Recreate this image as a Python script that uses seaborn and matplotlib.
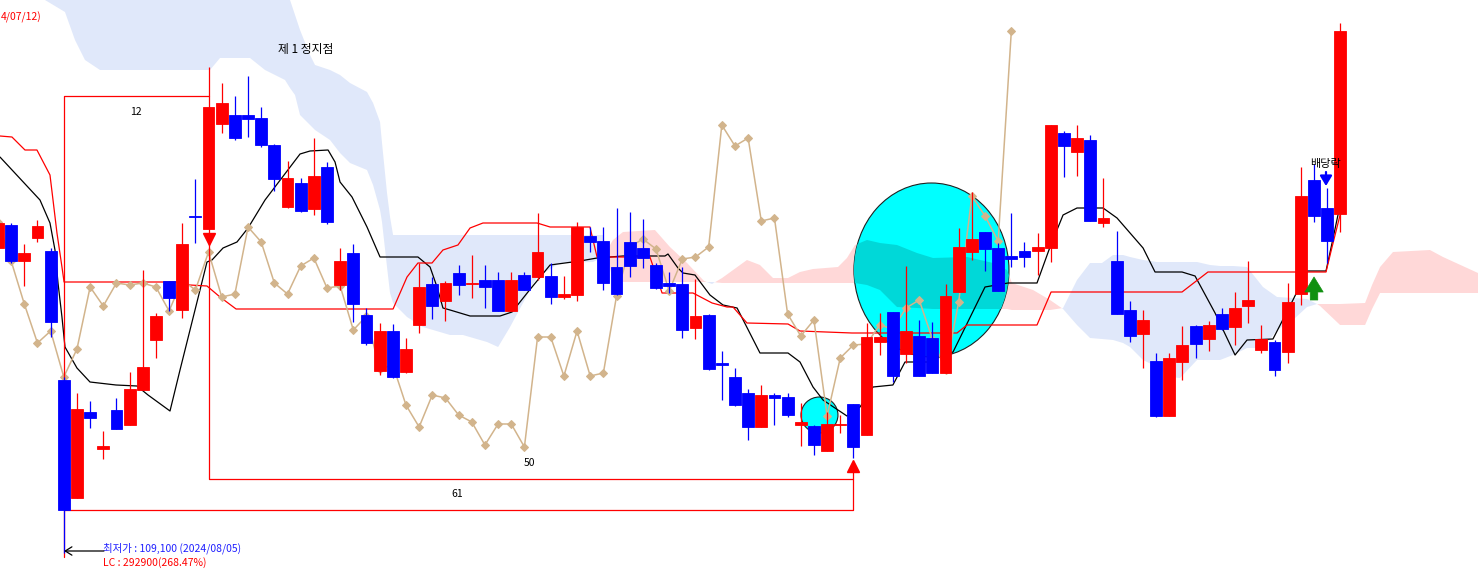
import numpy as np
import pandas as pd
import matplotlib
matplotlib.use('Agg')
import matplotlib.pyplot as plt
import seaborn as sns
from matplotlib.patches import Ellipse

sns.set_theme(style="white")
plt.rcParams['font.family'] = ['Noto Sans CJK KR', 'DejaVu Sans']

# candle data in chart units (screen rows, larger = lower price), one per bar
opens = [248, 225, 261, 238, 251, 380, 498, 412, 449, 410, 425, 390, 340, 281, 310, 216, 229, 124, 115, 115,
         118, 145, 207, 183, 209, 167, 285, 253, 315, 371, 331, 372, 325, 284, 301, 273, 284, 280, 280, 311,
         275, 277, 276, 297, 295, 236, 241, 267, 242, 248, 265, 283, 284, 328, 315, 363, 377, 393, 427, 395,
         397, 425, 426, 451, 425, 404, 435, 342, 312, 354, 336, 338, 373, 292, 252, 232, 248, 256, 251, 251,
         248, 133, 152, 140, 223, 261, 310, 334, 361, 416, 362, 326, 339, 314, 327, 306, 350, 342, 352, 294,
         180, 208, 214]
highs = [220, 223, 244, 220, 248, 377, 393, 401, 431, 398, 372, 270, 313, 281, 223, 179, 67, 83, 96, 76,
         107, 144, 161, 178, 138, 162, 248, 244, 308, 323, 324, 338, 263, 277, 281, 265, 255, 265, 272, 272,
         272, 213, 263, 276, 222, 227, 227, 208, 212, 219, 263, 272, 267, 279, 314, 351, 368, 389, 385, 393,
         393, 403, 425, 412, 415, 404, 323, 313, 312, 266, 320, 322, 284, 228, 192, 232, 243, 213, 242, 233,
         125, 131, 125, 135, 178, 231, 301, 310, 353, 353, 326, 325, 321, 308, 292, 261, 325, 340, 283, 167,
         164, 188, 23]
lows = [252, 263, 286, 242, 337, 553, 498, 428, 459, 429, 425, 390, 358, 311, 318, 243, 229, 133, 140, 137,
        147, 191, 208, 212, 215, 224, 290, 322, 345, 375, 378, 373, 333, 319, 321, 295, 298, 308, 311, 311,
        290, 280, 304, 299, 301, 252, 290, 295, 277, 268, 289, 293, 338, 339, 370, 400, 406, 440, 427, 425,
        417, 446, 455, 451, 433, 458, 435, 355, 382, 363, 376, 373, 373, 292, 260, 271, 291, 267, 267, 275,
        262, 177, 176, 221, 227, 314, 342, 368, 417, 416, 380, 358, 351, 330, 345, 323, 353, 376, 363, 305,
        222, 263, 232]
closes = [223, 261, 253, 226, 322, 510, 409, 418, 446, 429, 389, 367, 316, 298, 244, 217, 107, 103, 138, 119,
          145, 179, 178, 211, 176, 222, 261, 304, 343, 331, 377, 349, 287, 306, 283, 285, 283, 287, 311, 280,
          290, 252, 297, 294, 227, 242, 283, 294, 266, 258, 288, 286, 330, 316, 369, 365, 405, 427, 395, 398,
          415, 422, 445, 424, 424, 447, 337, 337, 376, 331, 376, 373, 296, 247, 239, 249, 291, 259, 257, 247,
          125, 146, 138, 221, 218, 314, 336, 320, 416, 358, 345, 344, 325, 329, 308, 300, 339, 370, 302, 196,
          216, 241, 31]

# conversion line (black) and base line (red), read as vertices (bar index, level)
tenkan_x = [0.15, 3.19, 3.95, 4.33, 4.56, 4.86, 5.09, 6.0, 6.99, 8.97, 10.56, 11.4, 13.07, 13.83, 14.97,
            15.88, 16.26, 17.1, 18.16, 19.0, 20.29, 22.95, 23.71, 25.08, 25.61, 25.99, 26.9, 28.04, 29.03,
            31.91, 32.83, 33.36, 33.81, 34.35, 35.87, 38.15, 39.06, 40.27, 41.95, 44.22, 45.52, 47.49, 50.68,
            50.91, 51.67, 52.05, 52.96, 54.1, 55.09, 56.16, 57.9, 60.03, 60.94, 61.93, 62.69, 64.51, 65.5,
            66.49, 68.0, 68.92, 70.59, 72.57, 75.0, 76.75, 78.95, 79.94, 80.93, 81.99, 83.97, 85.03, 86.02,
            87.01, 87.92, 89.97, 90.96, 92.48, 94.0, 94.91, 96.88, 98.4, 99.47, 100.91, 101.37, 101.98]
tenkan_y = [157, 200, 223, 250, 283, 317, 347, 368, 382, 385, 386, 395, 411, 370, 310, 262, 260, 248, 242, 228,
            200, 154, 151, 150, 162, 182, 197, 227, 257, 257, 267, 287, 308, 310, 316, 316, 312, 292, 265, 261,
            258, 256, 256, 254, 268, 273, 275, 295, 305, 308, 353, 353, 362, 387, 400, 416, 407, 387, 385, 362,
            362, 352, 287, 283, 283, 247, 215, 208, 208, 218, 233, 248, 272, 272, 276, 313, 355, 340, 339, 300,
            271, 271, 243, 205]
kijun_x = [0.15, 1.06, 2.05, 2.96, 3.95, 4.18, 4.48, 4.86, 5.02, 13.83, 14.59, 15.88, 16.87, 18.09, 30.02,
           31.08, 31.91, 32.98, 33.81, 34.95, 35.87, 36.85, 40.96, 41.95, 44.98, 45.52, 49.54, 50.46, 52.81,
           54.26, 55.4, 55.85, 56.91, 60.03, 60.94, 64.89, 72.87, 73.63, 78.95, 80.02, 89.97, 91.94, 100.91,
           101.37, 101.98]
kijun_y = [136, 137, 150, 150, 175, 200, 233, 267, 282, 282, 285, 286, 297, 309, 309, 277, 263, 263, 250, 245,
           228, 223, 223, 227, 227, 257, 257, 293, 293, 303, 307, 307, 323, 324, 331, 333, 333, 325, 325, 292,
           292, 272, 272, 247, 215]

# leading spans (cloud)
cloud_x = [0.15, 3.57, 5.09, 5.85, 6.61, 7.75, 16.11, 16.87, 19.15, 20.29, 21.81, 22.19, 22.57, 22.95, 23.71,
           24.09, 25.23, 25.99, 26.75, 28.04, 28.50, 29.03, 29.18, 29.56, 29.79, 30.02, 31.08, 32.29, 34.35,
           35.33, 37.16, 38.0, 38.91, 39.89, 40.96, 42.71, 45.21, 45.97, 46.73, 47.49, 49.92, 51.06, 52.36,
           53.65, 54.26, 55.02, 56.91, 57.90, 58.89, 60.03, 60.94, 61.93, 63.83, 64.51, 65.12, 66.03, 67.02,
           68.31, 69.83, 71.05, 73.63, 75.61, 76.67, 77.05, 78.65, 79.94, 80.93, 81.99, 82.98, 83.89, 84.73,
           85.49, 86.02, 87.01, 88.07, 89.06, 89.82, 91.11, 92.10, 92.86, 93.84, 94.91, 96.12, 97.19, 98.40,
           99.47, 100.23, 100.46, 101.98, 103.88, 104.41, 105.02, 106.0, 108.81, 109.8, 112.46]
span_a = [-20, 0, 12, 40, 60, 70, 70, 58, 58, 70, 80, 88, 95, 115, 125, 130, 140, 153, 163, 170, 185, 210, 222,
          267, 293, 303, 317, 327, 335, 335, 342, 347, 327, 303, 277, 263, 262, 257, 240, 232, 230, 247, 263,
          281, 284, 278, 260, 265, 278, 278, 272, 269, 267, 258, 245, 240, 243, 245, 253, 258, 257, 263, 270,
          283, 290, 300, 309, 325, 338, 339, 340, 343, 347, 360, 367, 377, 378, 360, 360, 360, 355, 348, 348,
          330, 320, 307, 304, 304, 304, 303, 285, 267, 252, 250, 257, 273]
span_b = [-80, -60, -50, -45, -40, -35, -20, -20, -15, -12, -5, 0, 15, 30, 55, 65, 70, 75, 83, 92, 103, 122,
          143, 193, 217, 235, 235, 235, 235, 235, 235, 235, 235, 235, 235, 235, 235, 235, 282, 282, 282, 282,
          282, 282, 282, 283, 283, 283, 283, 283, 283, 283, 283, 283, 283, 285, 290, 307, 308, 309, 309, 309,
          309, 310, 310, 310, 308, 280, 263, 263, 255, 255, 257, 260, 262, 262, 262, 262, 265, 266, 266, 267,
          287, 297, 298, 299, 304, 306, 325, 325, 309, 293, 293, 293, 293, 293]

df = pd.DataFrame({'open': opens, 'high': highs, 'low': lows, 'close': closes})
df['idx'] = np.arange(len(df))
df['chikou'] = df['close'].shift(-25)  # lagging span
up = df['close'] < df['open']
colors = np.where(up, '#FF0000', '#0000FF')

fig = plt.figure(figsize=(14.78, 5.83), dpi=100)
ax = fig.add_axes([0, 0, 1, 1])
ax.set_xlim(0.152, 112.46)
ax.set_ylim(583, 0)
ax.axis('off')

# cloud
cx, sa, sb = np.array(cloud_x), np.array(span_a), np.array(span_b)
ax.fill_between(cx, sa, sb, where=sb <= sa, interpolate=True, color='#E0E8FA', lw=0, zorder=1)
ax.fill_between(cx, sa, sb, where=sa <= sb, interpolate=True, color='#FFD8D8', lw=0, zorder=1)

# highlight circles
big = Ellipse((70.93, 270), width=11.78, height=174, facecolor='#00FFFF', edgecolor='#202020', lw=0.8, zorder=2)
small = Ellipse((62.42, 415), width=2.81, height=36, facecolor='#00FFFF', edgecolor='#202020', lw=0.8, zorder=2)
ax.add_patch(big)
ax.add_patch(small)
teal = ax.fill_between(cx, sa, sb, where=sa <= sb, interpolate=True, color='#00D8D8', lw=0, zorder=2.1)
teal.set_clip_path(big)

# ichimoku lines
sns.lineplot(x=tenkan_x, y=tenkan_y, ax=ax, color='black', lw=0.9, sort=False, estimator=None, zorder=3)
sns.lineplot(x=kijun_x, y=kijun_y, ax=ax, color='#FF0000', lw=0.9, sort=False, estimator=None, zorder=3)
sns.lineplot(data=df, x='idx', y='chikou', ax=ax, color='#D2B48C', lw=1.1, marker='D', markersize=4.5,
             markeredgecolor='#D2B48C', sort=False, estimator=None, zorder=3)

# count brackets
ax.plot([5, 5, 16], [557, 96, 96], color='#FF0000', lw=0.9, zorder=3)
ax.plot([16, 16, 65, 65], [229, 479, 479, 470], color='#FF0000', lw=0.9, zorder=3)
ax.plot([5, 65, 65], [510, 510, 479], color='#FF0000', lw=0.9, zorder=3)
ax.plot(16, 239, marker='v', color='#FF0000', ms=8, zorder=6)
ax.plot(65, 466, marker='^', color='#FF0000', ms=8, zorder=6)

# candles
ax.vlines(df['idx'], df['high'], df['low'], colors=colors, lw=0.9, zorder=4)
ax.bar(df['idx'], (df['open'] - df['close']).abs(), bottom=np.minimum(df['open'], df['close']),
       width=0.9, color=colors, edgecolor=colors, linewidth=0.6, zorder=5)
ax.set_xlabel('')
ax.set_ylabel('')

# annotations
ax.text(0.2, 17, '4/07/12)', color='#FF0000', fontsize=7.5, ha='left', va='center')
ax.text(23.4, 49, '제 1 정지점', color='black', fontsize=8.5, ha='center', va='center')
ax.text(10.5, 112, '12', color='black', fontsize=7.5, ha='center', va='center')
ax.text(40.4, 463, '50', color='black', fontsize=7.5, ha='center', va='center')
ax.text(34.9, 494, '61', color='black', fontsize=7.5, ha='center', va='center')
ax.text(7.98, 548, '최저가 : 109,100 (2024/08/05)', color='#2020FF', fontsize=7.5, ha='left', va='center')
ax.text(7.98, 563, 'LC : 292900(268.47%)', color='#FF0000', fontsize=7.5, ha='left', va='center')
ax.text(100.9, 164, '배당락', color='black', fontsize=8, ha='center', va='center', zorder=7)

ax.annotate('', xy=(5.02, 551), xytext=(8.05, 551),
            arrowprops=dict(arrowstyle='->,head_length=0.4,head_width=0.25', color='black', lw=0.9,
                            shrinkA=0, shrinkB=0), zorder=6)
ax.annotate('', xy=(100.91, 186), xytext=(100.91, 172),
            arrowprops=dict(arrowstyle='-|>,head_length=0.5,head_width=0.3', color='#0000FF', lw=1.6,
                            shrinkA=0, shrinkB=0), zorder=7)
ax.annotate('', xy=(100, 277), xytext=(100, 300),
            arrowprops=dict(arrowstyle='simple,head_length=0.9,head_width=1.1,tail_width=0.45',
                            fc='#109010', ec='#109010', lw=0.5, shrinkA=0, shrinkB=0), zorder=7)

fig.savefig('out.png', dpi=100)
